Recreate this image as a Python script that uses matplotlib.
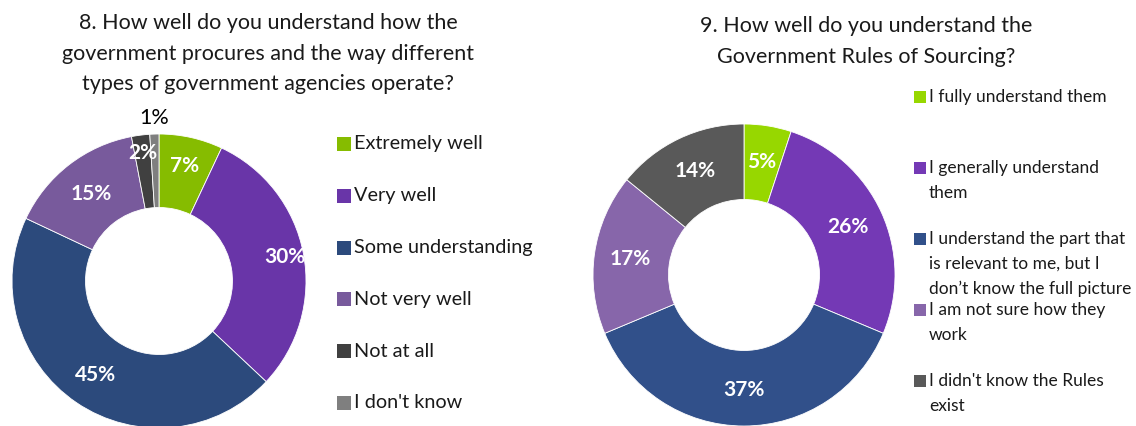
import numpy as np
import matplotlib
matplotlib.use("Agg")
import matplotlib.pyplot as plt

plt.rcParams['font.family'] = ['Lato', 'DejaVu Sans']

# question 8
q8_title = "8. How well do you understand how the\ngovernment procures and the way different\ntypes of government agencies operate?"
q8_labels = ["Extremely well", "Very well", "Some understanding",
             "Not very well", "Not at all", "I don't know"]
q8_values = [7, 30, 45, 15, 2, 1]
q8_colors = ["#86bc00", "#6935a8", "#2c4a7c", "#785a9c", "#404040", "#7f7f7f"]

# question 9
q9_title = "9. How well do you understand the\nGovernment Rules of Sourcing?"
q9_labels = ["I fully understand them",
             "I generally understand\nthem",
             "I understand the part that\nis relevant to me, but I\ndon\u2019t know the full picture",
             "I am not sure how they\nwork",
             "I didn't know the Rules\nexist"]
q9_values = [5, 26, 37, 17, 14]
q9_colors = ["#97d700", "#7439b5", "#31508a", "#8766aa", "#595959"]

W, H = 1136, 426
fig = plt.figure(figsize=(W / 100, H / 100), dpi=100)
ax = fig.add_axes([0, 0, 1, 1])


def donut(values, colors, cx, cy, r, dists, txtcolors, fs):
    wedges, _ = ax.pie(values, colors=colors, center=(cx, H - cy), radius=r,
                       startangle=90, counterclock=False,
                       wedgeprops=dict(width=r * 0.5, edgecolor="white", linewidth=0.6))
    for w, v, d, tc in zip(wedges, values, dists, txtcolors):
        th = np.deg2rad((w.theta1 + w.theta2) / 2)
        x = cx + d * r * np.cos(th)
        y = H - cy + d * r * np.sin(th)
        bold = tc == "white"
        ax.text(x, y, f"{v}%", ha="center", va="center", color=tc,
                fontsize=fs if bold else fs + 0.5,
                fontweight="bold" if bold else "normal")


donut(q8_values, q8_colors, 159, 281, 147,
      [0.80, 0.87, 0.77, 0.75, 0.88, 1.11],
      ["white"] * 5 + ["black"], 15)
donut(q9_values, q9_colors, 744, 275, 151,
      [0.76] * 5, ["white"] * 5, 15)

# titles
ax.text(268, H - 53.5, q8_title, ha="center", va="center", fontsize=15.5,
        linespacing=1.65, color="#1a1a1a")
ax.text(866, H - 41.5, q9_title, ha="center", va="center", fontsize=15.5,
        linespacing=1.65, color="#1a1a1a")

# legend for question 8
for i, (lab, c) in enumerate(zip(q8_labels, q8_colors)):
    y = H - (144 + 51.8 * i)
    ax.scatter([343.5], [y], marker="s", s=95, color=c, linewidths=0)
    ax.text(354, y, lab, ha="left", va="center", fontsize=14.3, color="#1a1a1a")

# legend for question 9
for i, (lab, c) in enumerate(zip(q9_labels, q9_colors)):
    y = H - (97 + 71 * i)
    ax.scatter([919.5], [y], marker="s", s=80, color=c, linewidths=0)
    ax.text(929, y + 8, lab, ha="left", va="top", fontsize=12.5,
            linespacing=1.67, color="#1a1a1a")

ax.set_xlim(0, W)
ax.set_ylim(0, H)
ax.set_aspect("equal")
ax.axis("off")

fig.savefig("out.png", dpi=100)
